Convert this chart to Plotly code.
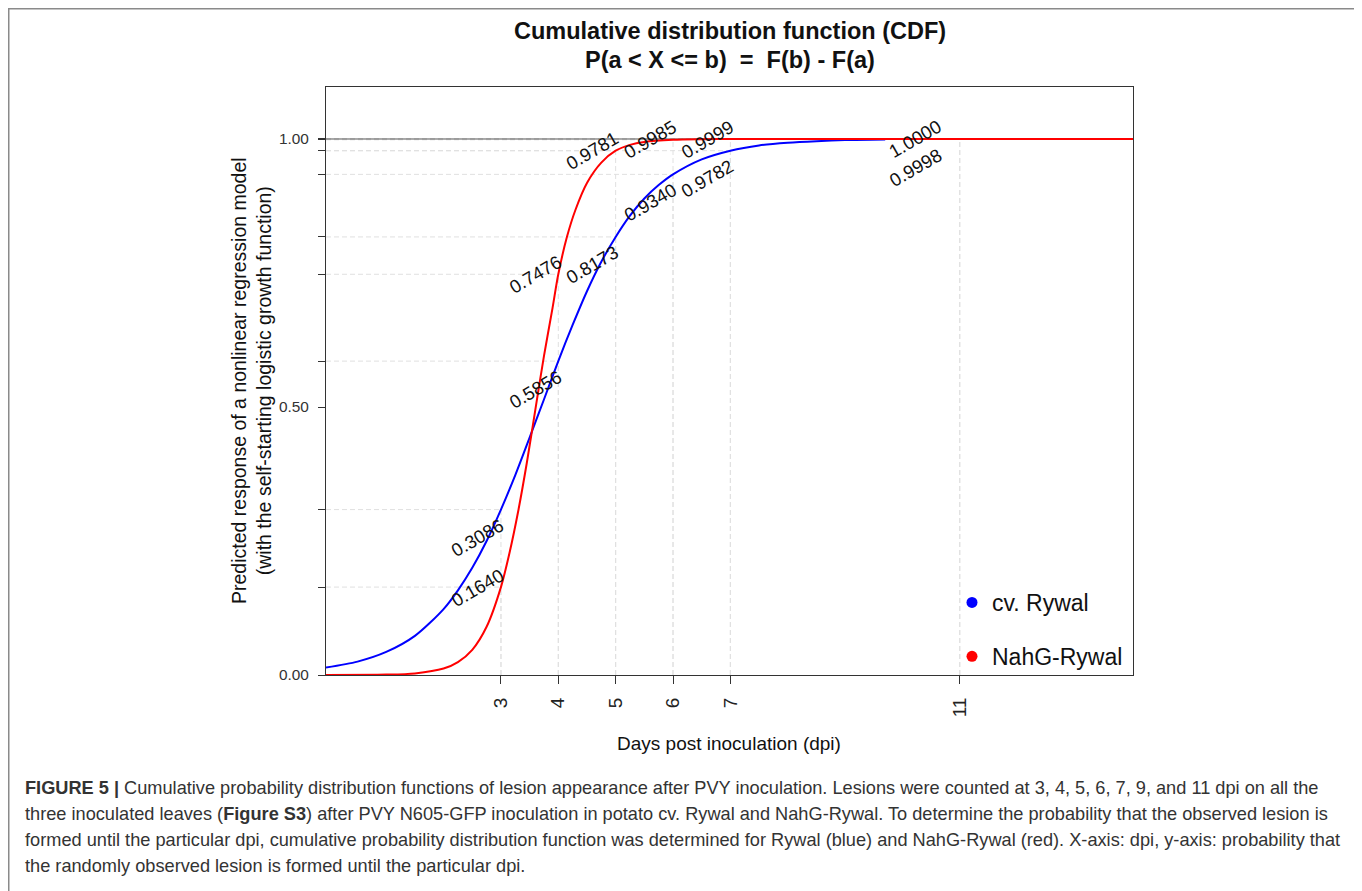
import plotly.graph_objects as go

# ---------------- data ----------------
days = [3, 4, 5, 6, 7, 11]
rywal_vals = [0.3086, 0.5856, 0.8173, 0.9340, 0.9782, 0.9998]
nahg_vals = [0.1640, 0.7476, 0.9781, 0.9985, 0.9999, 1.0000]

# fitted curves
rywal_curve_x = [-0.05, 0.5, 1.0, 1.5, 2.0, 2.25, 2.5, 2.75, 3.0, 3.25, 3.5, 3.75, 4.0,
                 4.25, 4.5, 4.75, 5.0, 5.25, 5.5, 5.75, 6.0, 6.5, 7.0, 7.5, 8.0, 8.5, 9.0, 9.7]
rywal_curve_y = [0.014, 0.025, 0.043, 0.073, 0.123, 0.158, 0.200, 0.250, 0.3086, 0.373,
                 0.443, 0.514, 0.5856, 0.653, 0.716, 0.771, 0.8173, 0.857, 0.889, 0.914,
                 0.9340, 0.962, 0.9782, 0.988, 0.993, 0.996, 0.998, 0.9991]
nahg_curve_x = [-0.05, 1.0, 1.5, 2.0, 2.25, 2.5, 2.75, 3.0, 3.15, 3.3, 3.45, 3.6, 3.75,
                3.9, 4.0, 4.15, 4.3, 4.5, 4.75, 5.0, 5.25, 5.5, 6.0, 6.5, 7.0, 8.0, 11.0, 14.02]
nahg_curve_y = [0.0, 0.0007, 0.003, 0.012, 0.024, 0.047, 0.090, 0.1640, 0.228, 0.305,
                0.395, 0.495, 0.595, 0.685, 0.7476, 0.817, 0.868, 0.918, 0.956, 0.9781,
                0.989, 0.9945, 0.9985, 0.9996, 0.9999, 1.0, 1.0, 1.0]

series_names = ["cv. Rywal", "NahG-Rywal"]
series_colors = ["#0000ff", "#ff0000"]

y_major = [0.0, 0.5, 1.0]
title_lines = ["Cumulative distribution function (CDF)",
               "P(a < X <= b)\u00a0\u00a0=\u00a0\u00a0F(b) - F(a)"]
y_title = "Predicted response of a nonlinear regression model<br>(with the self-starting logistic growth function)"
x_title = "Days post inoculation (dpi)"
caption_lines = [
    "<b>FIGURE 5 |</b> Cumulative probability distribution functions of lesion appearance after PVY inoculation. Lesions were counted at 3, 4, 5, 6, 7, 9, and 11 dpi on all the",
    "three inoculated leaves (<b>Figure S3</b>) after PVY N605-GFP inoculation in potato cv. Rywal and NahG-Rywal. To determine the probability that the observed lesion is",
    "formed until the particular dpi, cumulative probability distribution function was determined for Rywal (blue) and NahG-Rywal (red). X-axis: dpi, y-axis: probability that",
    "the randomly observed lesion is formed until the particular dpi.",
]

X_RANGE = [-0.05, 14.02]
Y_RANGE = [0.0, 1.097]

# ---------------- layout geometry (screen pixels; page body adds an 8px offset) ----------------
OFF = 8
W, H = 1362, 891
PL, PR, PT, PB = 326, 1133, 87, 675          # plot box in screen pixels
L, T = PL - OFF, PT - OFF
R, B = W - (PR - OFF), H - (PB - OFF)
PW, PH = PR - PL, PB - PT


def px(xs):
    return (xs - PL) / PW


def py(ys):
    return (PB - ys) / PH


FONT = "Liberation Sans, Arial, sans-serif"

fig = go.Figure()

# dashed guide segments (from the axes to each observed point)
gx, gy = [], []
for vals in (rywal_vals, nahg_vals):
    for d, v in zip(days, vals):
        gx += [X_RANGE[0], d, None, d, d, None]
        gy += [v, v, None, 0, v, None]
fig.add_trace(go.Scatter(x=gx, y=gy, mode="lines", hoverinfo="skip", showlegend=False,
                         line=dict(color="#e0e0e0", width=1, dash="5px,3px")))

# reference line at 1
fig.add_trace(go.Scatter(x=X_RANGE, y=[1, 1], mode="lines", hoverinfo="skip", showlegend=False,
                         line=dict(color="#555555", width=1)))

fig.add_trace(go.Scatter(x=rywal_curve_x, y=rywal_curve_y, mode="lines", showlegend=False,
                         line=dict(color=series_colors[0], width=2, shape="spline", smoothing=0.8),
                         name=series_names[0]))
fig.add_trace(go.Scatter(x=nahg_curve_x, y=nahg_curve_y, mode="lines", showlegend=False,
                         line=dict(color=series_colors[1], width=2, shape="spline", smoothing=0.8),
                         name=series_names[1]))

# legend entries (dots)
for nm, col in zip(series_names, series_colors):
    fig.add_trace(go.Scatter(x=[None], y=[None], mode="markers", name=nm, legendgroup=nm,
                             marker=dict(color=col, size=11)))

annotations = []
# value labels
for vals, dy in ((rywal_vals, -28), (nahg_vals, 0)):
    for d, v in zip(days, vals):
        annotations.append(dict(x=d, y=v, xref="x", yref="y", text=f"{v:.4f}", showarrow=False,
                                textangle=-30, xanchor="center", yanchor="middle",
                                xshift=(-44 if d == 11 else -23), yshift=dy,
                                font=dict(family=FONT, size=18.5, color="#111111")))

# titles
for i, line in enumerate(title_lines):
    annotations.append(dict(x=px(730), y=py(31 + 29 * i), xref="paper", yref="paper",
                            text="<b>" + line + "</b>", xanchor="center", yanchor="middle",
                            showarrow=False, font=dict(family=FONT, size=23.5, color="#111")))
annotations.append(dict(x=px(251), y=py(381), xref="paper", yref="paper", text=y_title,
                        textangle=-90, xanchor="center", yanchor="middle", showarrow=False,
                        font=dict(family=FONT, size=19.5, color="#111")))
annotations.append(dict(x=px(729), y=py(743), xref="paper", yref="paper", text=x_title,
                        xanchor="center", yanchor="middle",
                        showarrow=False, font=dict(family=FONT, size=19, color="#111")))

# caption
for i, line in enumerate(caption_lines):
    annotations.append(dict(x=px(23), y=py(788 + 26 * i), xref="paper", yref="paper", text=line,
                            xanchor="left", yanchor="middle", showarrow=False,
                            font=dict(family=FONT, size=18.2, color="#333333")))

fig.update_layout(
    width=W, height=H,
    margin=dict(l=L, r=R, t=T, b=B, autoexpand=False),
    paper_bgcolor="white", plot_bgcolor="white",
    font=dict(family=FONT, color="#222"),
    showlegend=True,
    legend=dict(x=px(952), y=py(581), xanchor="left", yanchor="top", bgcolor="rgba(0,0,0,0)",
                font=dict(family=FONT, size=23, color="#111"), tracegroupgap=21),
    annotations=annotations,
    shapes=[dict(type="rect", xref="paper", yref="paper", x0=px(8.5), x1=px(1355.5),
                 y0=py(910), y1=py(8.5), line=dict(color="#8a8a8a", width=2), layer="above")],
)
fig.update_xaxes(range=X_RANGE, showgrid=False, zeroline=False, showline=True, linecolor="#333",
                 mirror=True, linewidth=1, ticks="outside", ticklen=8, tickcolor="#333",
                 tickvals=days, ticktext=[str(d) for d in days], tickangle=-90,
                 tickfont=dict(family=FONT, size=19, color="#222"), ticklabelstandoff=6)
fig.update_yaxes(range=Y_RANGE, showgrid=False, zeroline=False, showline=True, linecolor="#333",
                 mirror=True, linewidth=1, ticks="outside", ticklen=7, tickcolor="#333",
                 tickvals=y_major, ticktext=[f"{t:.2f}" for t in y_major],
                 tickfont=dict(family=FONT, size=15.4, color="#333"), ticklabelstandoff=6,
                 minor=dict(tickvals=rywal_vals + nahg_vals, ticks="outside", ticklen=7,
                            tickcolor="#333", showgrid=False))

fig.write_html("out.html")
